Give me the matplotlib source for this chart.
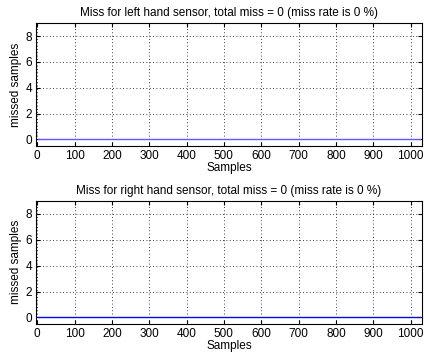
import numpy as np
import matplotlib
matplotlib.use('Agg')
import matplotlib.pyplot as plt

# ============================================================
# DATA
# ============================================================
samples = np.arange(1, 1025)
left_miss = np.zeros(len(samples))
right_miss = np.zeros(len(samples))
left_total, left_rate = 0, 0
right_total, right_rate = 0, 0

x_ticks = list(range(0, 1001, 100))
y_ticks = [0, 2, 4, 6, 8]

plt.rcParams['font.family'] = ['Liberation Sans', 'DejaVu Sans']
plt.rcParams['font.size'] = 8.5

fig = plt.figure(figsize=(4.24, 3.61), dpi=100)
ax1 = fig.add_axes([0.085, 0.596, 0.910, 0.340])
ax2 = fig.add_axes([0.085, 0.1025, 0.910, 0.342])

panels = [
    (ax1, left_miss, '#5c5cf5', f'Miss for left hand sensor, total miss = {left_total} (miss rate is {left_rate} %)'),
    (ax2, right_miss, '#0a0ad6', f'Miss for right hand sensor, total miss = {right_total} (miss rate is {right_rate} %)'),
]

for ax, miss, col, title in panels:
    ax.plot(samples, miss, color=col, linewidth=1.0)
    ax.set_xlim(-3, 1030)
    ax.set_ylim(-0.5, 9)
    ax.set_xticks(x_ticks)
    ax.set_yticks(y_ticks)
    ax.grid(True, color='black', linestyle=(0, (1, 3)), linewidth=0.6)
    ax.tick_params(direction='in', length=3, width=0.8, top=True, right=True, pad=3)
    for sp in ax.spines.values():
        sp.set_linewidth(0.8)
    ax.set_title(title, fontsize=8.5, pad=5)
    ax.set_xlabel('Samples', labelpad=0)
    ax.set_ylabel('missed samples', labelpad=2)

fig.savefig('out.png', dpi=100)
